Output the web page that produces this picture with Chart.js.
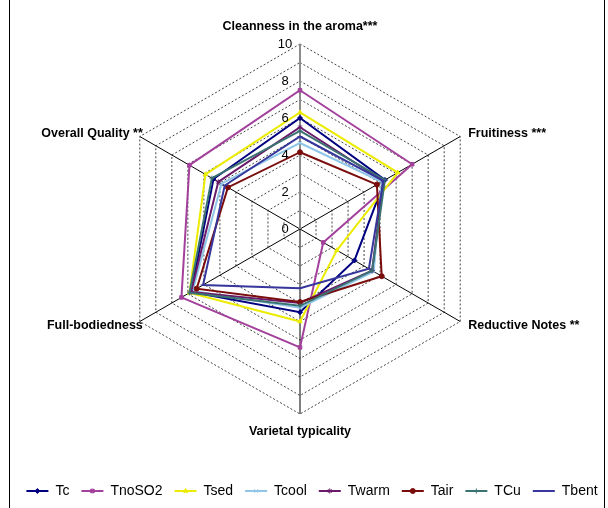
<!DOCTYPE html>
<html>
<head>
<meta charset="utf-8">
<script src="https://cdn.jsdelivr.net/npm/chart.js@4.4.0/dist/chart.umd.min.js"></script>
<style>
  html, body { margin: 0; padding: 0; background: #fff; overflow: hidden; }
  #frame { position: absolute; left: 9px; top: -1px; width: 596px; height: 520px; border: 1px solid #000; box-sizing: border-box; }
  #wrap { position: absolute; left: 8px; top: 0; width: 608px; height: 508px; }
</style>
</head>
<body>
<div id="frame"></div>
<div id="wrap"><canvas id="chartWeb" width="608" height="508"></canvas></div>
<script>
// sensory scores per treatment, axis order = categories
const categories = ['Cleanness in the aroma***', 'Fruitiness ***', 'Reductive Notes **', 'Varietal typicality', 'Full-bodiedness', 'Overall Quality **'];
const tickLabels = [0, 2, 4, 6, 8, 10];
const seriesNames = ['Tc', 'TnoSO2', 'Tsed', 'Tcool', 'Twarm', 'Tair', 'TCu', 'Tbent'];

const tc     = [6.0, 5.3, 3.4, 4.5, 6.8, 5.4];
const tnoSO2 = [7.5, 7.0, 1.45, 6.4, 7.4, 6.9];
const tsed   = [6.3, 6.1, 2.3, 5.0, 6.9, 5.9];
const tcool  = [4.65, 5.1, 4.6, 4.25, 6.7, 4.9];
const twarm  = [5.5, 5.2, 4.5, 4.0, 6.8, 5.1];
const tair   = [4.15, 4.8, 5.1, 3.95, 6.45, 4.5];
const tcu    = [5.3, 5.3, 4.5, 4.15, 6.9, 5.5];
const tbent  = [5.0, 5.2, 4.3, 3.2, 6.05, 4.7];

const seriesValues = [tc, tnoSO2, tsed, tcool, twarm, tair, tcu, tbent];
const colors = ['#000080', '#a3409b', '#ecec00', '#8fc5e6', '#6a1a6a', '#7a0c0c', '#3b7373', '#36369c'];
const markers = ['rectRot', 'rect', 'triangle', 'crossRot', 'star', 'circle', 'cross', 'line'];

const FONT = '"Liberation Sans", Arial, sans-serif';
Chart.defaults.font.family = FONT;
Chart.defaults.color = '#000';

// axis names + tick numbers drawn by hand so they sit where excel put them
const webText = {
  id: 'webText',
  afterDraw(chart) {
    const s = chart.scales.r;
    const ctx = chart.ctx;
    ctx.save();
    ctx.fillStyle = '#000';
    ctx.textBaseline = 'middle';
    ctx.textAlign = 'center';
    ctx.font = '13px ' + FONT;
    tickLabels.forEach((t) => {
      ctx.fillText(String(t), s.xCenter - 15, s.yCenter - s.getDistanceFromCenterForValue(t));
    });

    ctx.font = 'bold 12.5px ' + FONT;
    categories.forEach((name, i) => {
      const p = s.getPointPosition(i, s.drawingArea);
      if (i === 0) {
        ctx.textAlign = 'center';
        ctx.fillText(name, p.x, p.y - 17);
      } else if (i === 3) {
        ctx.textAlign = 'center';
        ctx.fillText(name, p.x, p.y + 18);
      } else {
        const right = p.x > s.xCenter;
        const up = p.y < s.yCenter;
        ctx.textAlign = right ? 'left' : 'right';
        ctx.fillText(name, right ? p.x + 8 : p.x + 3, p.y + (up ? -3 : 4));
      }
    });

    // little markers on the legend lines
    const lg = chart.legend;
    lg.legendItems.forEach((item, i) => {
      const box = lg.legendHitBoxes[i];
      const ds = chart.data.datasets[item.datasetIndex];
      ctx.fillStyle = ds.borderColor;
      ctx.strokeStyle = ds.borderColor;
      ctx.lineWidth = 1;
      Chart.helpers.drawPoint(ctx, { pointStyle: ds.pointStyle, radius: 2.5, rotation: 0, borderWidth: 1 }, box.left + 11, box.top + box.height / 2);
    });
    ctx.restore();
  },
};

new Chart(document.getElementById('chartWeb'), {
  type: 'radar',
  data: {
    labels: categories,
    datasets: seriesNames.map((name, i) => ({
      label: name,
      data: seriesValues[i],
      borderColor: colors[i],
      backgroundColor: colors[i],
      pointBackgroundColor: colors[i],
      pointBorderColor: colors[i],
      pointStyle: markers[i],
      pointRadius: 2.5,
      pointBorderWidth: 1,
      borderWidth: 2,
      fill: false,
      order: seriesNames.length - i, // excel paints later series on top
    })),
  },
  options: {
    responsive: false,
    animation: false,
    devicePixelRatio: 1,
    layout: { padding: 0 },
    plugins: {
      legend: {
        position: 'bottom',
        labels: {
          font: { size: 14 },
          color: '#000',
          boxWidth: 22,
          boxHeight: 2,
          padding: 12,
          sort: (a, b) => a.datasetIndex - b.datasetIndex,
          generateLabels(chart) {
            const items = Chart.defaults.plugins.legend.labels.generateLabels(chart);
            items.forEach((it) => { it.lineWidth = 0; });
            return items;
          },
        },
      },
      tooltip: { enabled: false },
    },
    scales: {
      r: {
        min: 0,
        max: 10,
        ticks: { stepSize: 1, display: false },
        pointLabels: { display: false },
        grid: { color: '#444', lineWidth: 1, borderDash: [2, 2] },
        border: { dash: [2, 2] },
        angleLines: {
          color: (c) => (c.index === 0 ? '#8c8c8c' : '#000'),
          lineWidth: (c) => (c.index === 0 ? 2 : 1),
        },
        // legend is centred on the page but the web sits a bit left / up
        afterFit(s) {
          s.xCenter = 292;
          s.yCenter = 229;
          s.drawingArea = 185;
        },
      },
    },
  },
  plugins: [webText],
});
</script>
</body>
</html>
